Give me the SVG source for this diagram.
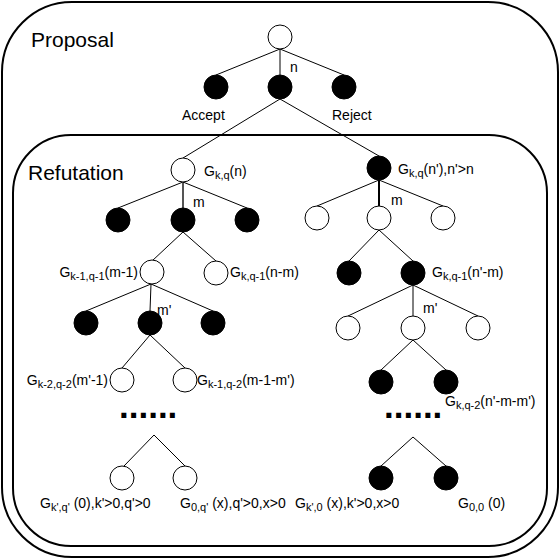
<svg xmlns="http://www.w3.org/2000/svg" width="560" height="560" viewBox="0 0 560 560">
<style>
.box{fill:none;stroke:#000;stroke-width:2}
.open{fill:#fff;stroke:#000;stroke-width:1}
.filled{fill:#000;stroke:#000;stroke-width:1}
.edge{stroke:#000;stroke-width:1;fill:none}
.thick{stroke-width:2}
text{font-family:"Liberation Sans",Arial,sans-serif;fill:#000}
.title{font-size:21px}
.lbl{font-size:14px}
.sub{font-size:11px}
.dots{font-size:35px;font-weight:bold}
</style>
<rect id="proposal-box" class="box" x="2" y="2" width="556" height="555" rx="70" ry="70"/>
<rect id="refutation-box" class="box" x="13" y="135" width="534" height="411" rx="58" ry="58"/>
<text class="title" x="31" y="47">Proposal</text>
<text class="title" x="28" y="180">Refutation</text>
<g id="connectors">
<line class="edge" x1="280" y1="49" x2="216" y2="75"/>
<line class="edge" x1="280" y1="49" x2="280" y2="75"/>
<line class="edge" x1="280" y1="49" x2="344" y2="75"/>
<line class="edge" x1="280" y1="99" x2="183" y2="158"/>
<line class="edge" x1="280" y1="99" x2="379" y2="156"/>
<line class="edge" x1="183" y1="182" x2="118" y2="208"/>
<line class="edge thick" x1="183" y1="182" x2="183" y2="208" style="stroke:#555"/>
<line class="edge" x1="183" y1="182" x2="247" y2="208"/>
<line class="edge" x1="183" y1="232" x2="152" y2="261"/>
<line class="edge" x1="183" y1="232" x2="216" y2="261"/>
<line class="edge" x1="151" y1="284" x2="86" y2="311"/>
<line class="edge" x1="151" y1="284" x2="150" y2="311"/>
<line class="edge" x1="151" y1="284" x2="213" y2="311"/>
<line class="edge" x1="150" y1="335" x2="122" y2="368"/>
<line class="edge" x1="150" y1="335" x2="185" y2="368"/>
<line class="edge" x1="154" y1="435" x2="124" y2="466"/>
<line class="edge" x1="154" y1="435" x2="185" y2="466"/>
<line class="edge" x1="379" y1="180" x2="317" y2="206"/>
<line class="edge thick" x1="379" y1="180" x2="379" y2="206"/>
<line class="edge" x1="379" y1="180" x2="443" y2="206"/>
<line class="edge" x1="379" y1="230" x2="349" y2="261"/>
<line class="edge" x1="379" y1="230" x2="413" y2="261"/>
<line class="edge" x1="413" y1="285" x2="348" y2="316"/>
<line class="edge" x1="413" y1="285" x2="413" y2="316"/>
<line class="edge" x1="413" y1="285" x2="478" y2="316"/>
<line class="edge" x1="413" y1="340" x2="381" y2="370"/>
<line class="edge" x1="413" y1="340" x2="446" y2="370"/>
<line class="edge" x1="413" y1="437" x2="381" y2="466"/>
<line class="edge" x1="413" y1="437" x2="446" y2="466"/>
<text class="lbl" x="290" y="72">n</text>
<text class="lbl" x="182" y="120">Accept</text>
<text class="lbl" x="332" y="120">Reject</text>
<text class="lbl" x="193" y="207">m</text>
<text class="lbl" x="391" y="205">m</text>
<text class="lbl" x="157" y="315">m'</text>
<text class="lbl" x="423" y="313">m'</text>
</g>
<g id="root"><circle class="open" cx="280" cy="37" r="12"/></g>
<g id="p-accept"><circle class="filled" cx="216" cy="87" r="12"/></g>
<g id="p-n"><circle class="filled" cx="280" cy="87" r="12"/></g>
<g id="p-reject"><circle class="filled" cx="344" cy="87" r="12"/></g>
<g id="l-gkq"><circle class="open" cx="183" cy="170" r="12"/>
<text class="lbl" x="204" y="176">G<tspan class="sub" dy="3">k,q</tspan><tspan dy="-3">(n)</tspan></text></g>
<g id="l1a"><circle class="filled" cx="118" cy="220" r="12"/></g>
<g id="l1b"><circle class="filled" cx="183" cy="220" r="12"/></g>
<g id="l1c"><circle class="filled" cx="247" cy="220" r="12"/></g>
<g id="l2a"><circle class="open" cx="152" cy="272" r="12"/>
<text class="lbl" x="138" y="277" text-anchor="end">G<tspan class="sub" dy="3">k-1,q-1</tspan><tspan dy="-3">(m-1)</tspan></text></g>
<g id="l2b"><circle class="open" cx="216" cy="273" r="12"/>
<text class="lbl" x="230" y="277">G<tspan class="sub" dy="3">k,q-1</tspan><tspan dy="-3">(n-m)</tspan></text></g>
<g id="l3a"><circle class="filled" cx="86" cy="323" r="12"/></g>
<g id="l3b"><circle class="filled" cx="150" cy="323" r="12"/></g>
<g id="l3c"><circle class="filled" cx="213" cy="323" r="12"/></g>
<g id="l4a"><circle class="open" cx="122" cy="380" r="12"/>
<text class="lbl" x="108" y="385" text-anchor="end">G<tspan class="sub" dy="3">k-2,q-2</tspan><tspan dy="-3">(m'-1)</tspan></text></g>
<g id="l4b"><circle class="open" cx="185" cy="380" r="12"/>
<text class="lbl" x="197" y="385">G<tspan class="sub" dy="3">k-1,q-2</tspan><tspan dy="-3">(m-1-m')</tspan></text></g>
<text class="dots" x="119" y="418">......</text>
<g id="l5a"><circle class="open" cx="122" cy="478" r="12"/>
<text class="lbl" x="40" y="508">G<tspan class="sub" dy="3">k',q'</tspan><tspan dy="-3"> (0),k'&gt;0,q'&gt;0</tspan></text></g>
<g id="l5b"><circle class="open" cx="185" cy="478" r="12"/>
<text class="lbl" x="180" y="508">G<tspan class="sub" dy="3">0,q'</tspan><tspan dy="-3"> (x),q'&gt;0,x&gt;0</tspan></text></g>
<g id="r-gkq"><circle class="filled" cx="379" cy="168" r="12"/>
<text class="lbl" x="398" y="174">G<tspan class="sub" dy="3">k,q</tspan><tspan dy="-3">(n'),n'&gt;n</tspan></text></g>
<g id="r1a"><circle class="open" cx="317" cy="218" r="12"/></g>
<g id="r1b"><circle class="open" cx="379" cy="218" r="12"/></g>
<g id="r1c"><circle class="open" cx="443" cy="218" r="12"/></g>
<g id="r2a"><circle class="filled" cx="349" cy="273" r="12"/></g>
<g id="r2b"><circle class="filled" cx="413" cy="273" r="12"/>
<text class="lbl" x="432" y="277">G<tspan class="sub" dy="3">k,q-1</tspan><tspan dy="-3">(n'-m)</tspan></text></g>
<g id="r3a"><circle class="open" cx="348" cy="328" r="12"/></g>
<g id="r3b"><circle class="open" cx="413" cy="328" r="12"/></g>
<g id="r3c"><circle class="open" cx="478" cy="328" r="12"/></g>
<g id="r4a"><circle class="filled" cx="381" cy="382" r="12"/></g>
<g id="r4b"><circle class="filled" cx="446" cy="382" r="12"/>
<text class="lbl" x="445" y="406">G<tspan class="sub" dy="3">k,q-2</tspan><tspan dy="-3">(n'-m-m')</tspan></text></g>
<text class="dots" x="384" y="418">......</text>
<g id="r5a"><circle class="filled" cx="381" cy="478" r="12"/>
<text class="lbl" x="295" y="508">G<tspan class="sub" dy="3">k',0</tspan><tspan dy="-3"> (x),k'&gt;0,x&gt;0</tspan></text></g>
<g id="r5b"><circle class="filled" cx="446" cy="478" r="12"/>
<text class="lbl" x="458" y="508">G<tspan class="sub" dy="3">0,0</tspan><tspan dy="-3"> (0)</tspan></text></g>
</svg>
